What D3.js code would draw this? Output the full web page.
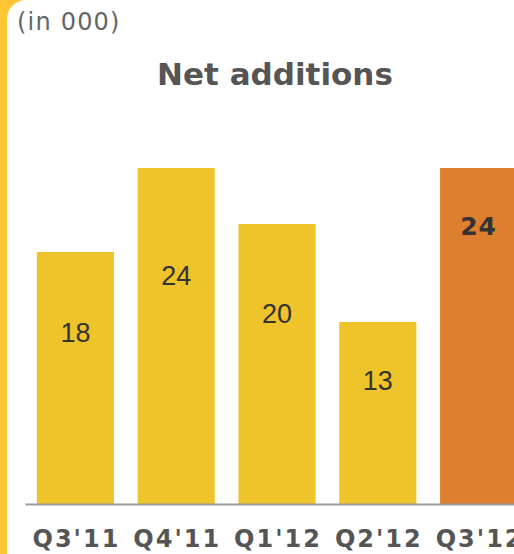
<!DOCTYPE html>
<html>
<head>
<meta charset="utf-8">
<script src="https://cdn.jsdelivr.net/npm/d3@7"></script>
<style>
  html, body { margin: 0; padding: 0; background: #fff; }
  svg { display: block; }
</style>
</head>
<body>
<svg id="chart" width="514" height="554"></svg>
<script>
// Quarterly net additions, in thousands
const quarters = ["Q3'11", "Q4'11", "Q1'12", "Q2'12", "Q3'12"];
const netAdditions = [18, 24, 20, 13, 24];
const highlightQuarter = "Q3'12";

const W = 514, H = 554;
const svg = d3.select("#chart");

// Frame: yellow strip down the left edge with a rounded white panel
svg.append("rect").attr("x", 0).attr("y", 0).attr("width", 40).attr("height", H)
  .attr("fill", "#FFC535");
svg.append("rect").attr("x", 7).attr("y", 0).attr("width", 700).attr("height", 800)
  .attr("rx", 19).attr("ry", 19).attr("fill", "#fff");

svg.append("text")
  .attr("x", 17).attr("y", 30)
  .attr("font-family", "DejaVu Sans")
  .attr("font-size", 24)
  .attr("letter-spacing", 1.2)
  .attr("fill", "#666")
  .text("(in 000)");

svg.append("text")
  .attr("x", 275).attr("y", 85)
  .attr("text-anchor", "middle")
  .attr("font-family", "DejaVu Sans")
  .attr("font-weight", "bold")
  .attr("font-size", 31)
  .attr("fill", "#555")
  .text("Net additions");

const baseY = 504;
const x = d3.scaleBand()
  .domain(quarters)
  .range([25, 529])
  .paddingInner(0.235)
  .paddingOuter(0.1175);

const y = d3.scaleLinear()
  .domain([0, 24])
  .range([baseY, 168]);

const data = quarters.map((q, i) => ({ q, v: netAdditions[i], hi: q === highlightQuarter }));

const bars = svg.append("g");
bars.selectAll("rect")
  .data(data)
  .join("rect")
  .attr("x", d => x(d.q))
  .attr("y", d => y(d.v))
  .attr("width", x.bandwidth())
  .attr("height", d => baseY - y(d.v))
  .attr("fill", d => d.hi ? "#DD7F2E" : "#EEC42A");

// Value labels inside the bars
bars.selectAll("text")
  .data(data)
  .join("text")
  .attr("x", d => x(d.q) + x.bandwidth() / 2)
  .attr("y", d => d.hi ? y(d.v) + 58 : y(d.v * 0.68))
  .attr("dy", "0.36em")
  .attr("text-anchor", "middle")
  .attr("font-family", d => d.hi ? "DejaVu Sans" : "Liberation Sans")
  .attr("font-weight", d => d.hi ? "bold" : "normal")
  .attr("font-size", d => d.hi ? 25 : 27)
  .attr("letter-spacing", d => d.hi ? 1 : 0)
  .attr("fill", "#333")
  .text(d => d3.format("d")(d.v));

// Category axis
const axis = svg.append("g")
  .attr("transform", `translate(0,${baseY})`)
  .call(d3.axisBottom(x).tickSize(0).tickSizeOuter(0).tickPadding(26));
axis.select(".domain").attr("stroke", "#999").attr("stroke-width", 2);
axis.selectAll(".tick text")
  .attr("font-family", "DejaVu Sans")
  .attr("font-weight", "bold")
  .attr("font-size", 24)
  .attr("letter-spacing", 2)
  .attr("dx", 1)
  .attr("fill", "#555");
</script>
</body>
</html>
